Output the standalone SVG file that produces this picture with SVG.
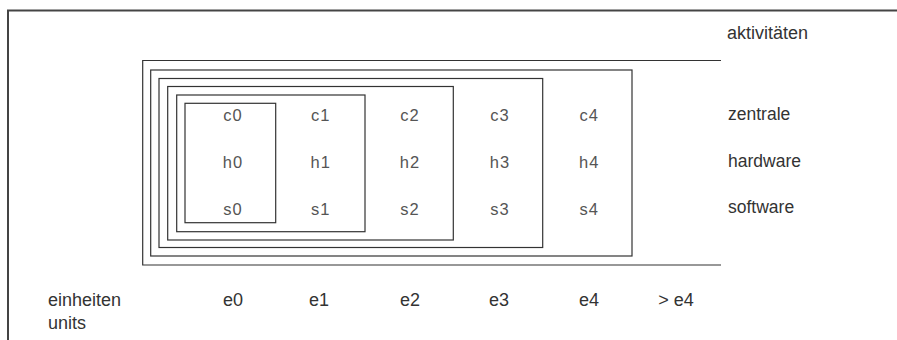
<svg xmlns="http://www.w3.org/2000/svg" width="897" height="340" viewBox="0 0 897 340">
<style>
.frame{fill:none;stroke:#444;stroke-width:2}
.box{fill:none;stroke:#333;stroke-width:1.2}
.cell{font-family:"Liberation Sans",Arial,sans-serif;font-size:16.5px;fill:#555;text-anchor:middle;letter-spacing:1px}
.lab{font-family:"Liberation Sans",Arial,sans-serif;font-size:17.5px;fill:#333}
.cond{font-family:"Liberation Sans",Arial,sans-serif;font-size:18px;fill:#333}
.mid{text-anchor:middle}
</style>
<rect width="897" height="340" fill="#ffffff"/>
<path class="frame" d="M897,10.5 H8 V340"/>
<g id="boxes">
<path id="box-e4" class="box" d="M721,60.5 H142.7 V265 H721"/>
<rect id="box-e3" class="box" x="150.7" y="70" width="481.3" height="186"/>
<rect id="box-e2" class="box" x="159" y="78.5" width="383.7" height="169"/>
<rect id="box-e1" class="box" x="167.7" y="86.5" width="285.6" height="153.5"/>
<rect id="box-e0b" class="box" x="176.7" y="95" width="188.3" height="136.7"/>
<rect id="box-e0" class="box" x="185" y="103.3" width="90.7" height="119.4"/>
</g>
<g id="cells">
<text class="cell" x="233" y="121">c0</text>
<text class="cell" x="320.7" y="121">c1</text>
<text class="cell" x="410" y="121">c2</text>
<text class="cell" x="500" y="121">c3</text>
<text class="cell" x="589.3" y="121">c4</text>
<text class="cell" x="233" y="168">h0</text>
<text class="cell" x="320.7" y="168">h1</text>
<text class="cell" x="410" y="168">h2</text>
<text class="cell" x="500" y="168">h3</text>
<text class="cell" x="589.3" y="168">h4</text>
<text class="cell" x="233" y="214.5">s0</text>
<text class="cell" x="320.7" y="214.5">s1</text>
<text class="cell" x="410" y="214.5">s2</text>
<text class="cell" x="500" y="214.5">s3</text>
<text class="cell" x="589.3" y="214.5">s4</text>
</g>
<g id="labels">
<text class="cond" x="727" y="38.5">aktivitäten</text>
<text class="lab" x="728" y="119.5">zentrale</text>
<text class="lab" x="728" y="166.5">hardware</text>
<text class="lab" x="728" y="213">software</text>
<text class="cond" x="48" y="306">einheiten</text>
<text class="cond" x="48" y="329">units</text>
<text class="cond mid" x="233" y="306">e0</text>
<text class="cond mid" x="319" y="306">e1</text>
<text class="cond mid" x="410" y="306">e2</text>
<text class="cond mid" x="499" y="306">e3</text>
<text class="cond mid" x="589" y="306">e4</text>
<text class="cond mid" x="676" y="306">&gt; e4</text>
</g>
</svg>
